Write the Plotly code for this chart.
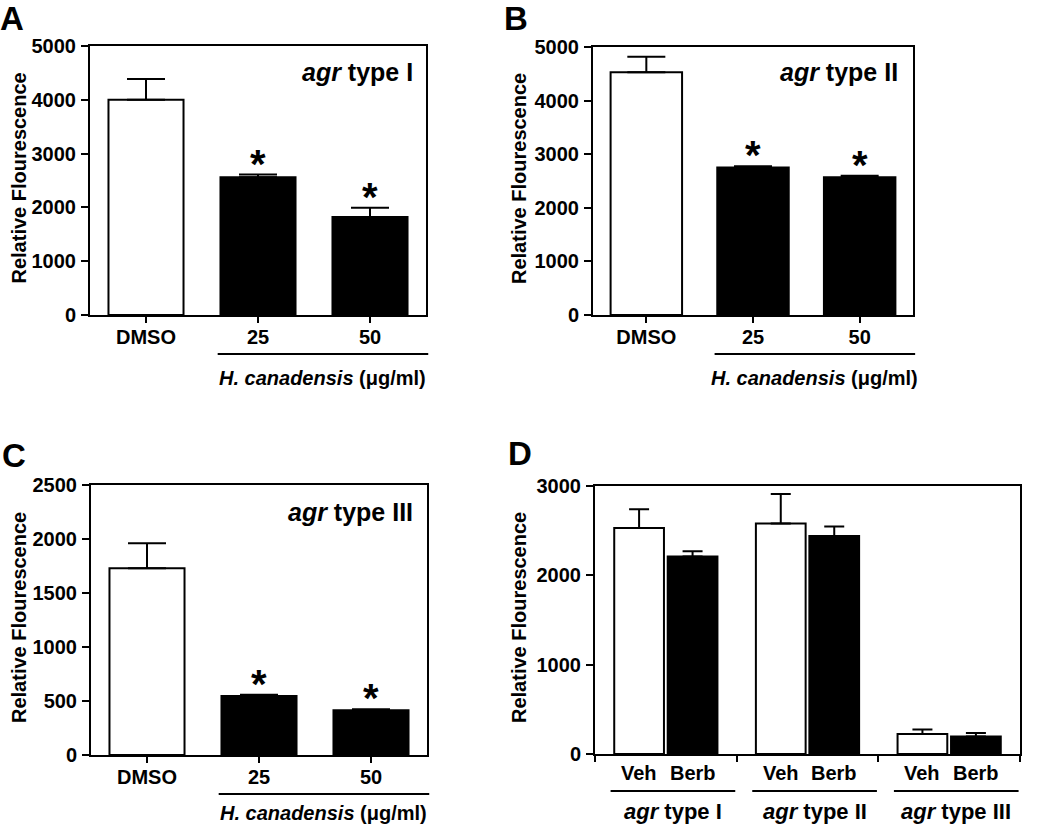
import plotly.graph_objects as go

W, H = 1050, 831

# ---------------- data ----------------
categories = ["DMSO", "25", "50"]
bar_fills = ["white", "black", "black"]
significant = [False, True, True]

a_values = [4000, 2560, 1820]
a_errors = [385, 50, 175]
b_values = [4530, 2750, 2570]
b_errors = [290, 25, 30]
c_values = [1730, 547, 415]
c_errors = [230, 10, 8]

d_groups = ["agr type I", "agr type II", "agr type III"]
d_group_labels = ["<i>agr</i> type I", "<i>agr</i> type II", "<i>agr</i> type III"]
d_sub_labels = ["Veh", "Berb"]
d_veh = [2530, 2580, 225]
d_veh_err = [210, 330, 48]
d_berb = [2210, 2440, 197]
d_berb_err = [60, 108, 38]

panel_titles = ["<i>agr</i> type I", "<i>agr</i> type II", "<i>agr</i> type III"]
y_ranges = [(0, 5000, 1000), (0, 5000, 1000), (0, 2500, 500), (0, 3000, 1000)]
y_title = "Relative Flourescence"
x_group_title = "<i>H. canadensis</i> (μg/ml)"

# ---------------- layout geometry (pixels) ----------------
boxes = {  # left, right, top, bottom
    "A": (90, 426, 46, 315),
    "B": (593, 913, 47, 315),
    "C": (91, 427, 485, 755),
    "D": (595, 1020, 486, 754),
}
FONT = "Liberation Sans, Arial, Helvetica, sans-serif"


def xdom(b):
    return [b[0] / W, b[1] / W]


def ydom(b):
    return [1 - b[3] / H, 1 - b[2] / H]


def cat_to_paper(b, n, v):
    return (b[0] + (v + 0.5) * (b[1] - b[0]) / n) / W


def py(p):
    return 1 - p / H


fig = go.Figure()

axis_names = [("x", "y"), ("x2", "y2"), ("x3", "y3"), ("x4", "y4")]
panel_keys = ["A", "B", "C", "D"]
abc_data = [(a_values, a_errors), (b_values, b_errors), (c_values, c_errors)]

for i, (vals, errs) in enumerate(abc_data):
    xa, ya = axis_names[i]
    fig.add_trace(go.Bar(
        x=categories, y=vals, xaxis=xa, yaxis=ya, width=0.67,
        marker=dict(color=bar_fills, line=dict(color="black", width=2)),
        error_y=dict(type="data", array=errs, arrayminus=[0] * len(errs), symmetric=False,
                     color="black", thickness=2, width=19),
        showlegend=False, hoverinfo="skip"))

fig.add_trace(go.Bar(
    x=d_groups, y=d_veh, xaxis="x4", yaxis="y4", name="Veh",
    marker=dict(color="white", line=dict(color="black", width=2)),
    error_y=dict(type="data", array=d_veh_err, arrayminus=[0] * 3, symmetric=False,
                 color="black", thickness=2, width=10),
    showlegend=False, hoverinfo="skip"))
fig.add_trace(go.Bar(
    x=d_groups, y=d_berb, xaxis="x4", yaxis="y4", name="Berb",
    marker=dict(color="black", line=dict(color="black", width=2)),
    error_y=dict(type="data", array=d_berb_err, arrayminus=[0] * 3, symmetric=False,
                 color="black", thickness=2, width=10),
    showlegend=False, hoverinfo="skip"))

layout = dict(
    width=W, height=H, margin=dict(l=0, r=0, t=0, b=0, pad=0, autoexpand=False),
    paper_bgcolor="white", plot_bgcolor="white",
    barmode="group", bargap=0.245, bargroupgap=0.07,
    font=dict(family=FONT, color="black", weight="bold"),
    showlegend=False,
)

for i, key in enumerate(panel_keys):
    b = boxes[key]
    xa, ya = axis_names[i]
    xk = "xaxis" + xa[1:]
    yk = "yaxis" + ya[1:]
    lo, hi, dt = y_ranges[i]
    xax = dict(type="category", domain=xdom(b), anchor=ya, automargin=False, range=[-0.5, 2.5],
               showline=True, linecolor="black", linewidth=2,
               mirror=True, ticks="outside", ticklen=6, tickwidth=2, tickcolor="black",
               showgrid=False, zeroline=False, fixedrange=True,
               tickfont=dict(family=FONT, size=20, color="black", weight="bold"),
               ticklabelstandoff=-3)
    if key == "D":
        xax.update(tickson="boundaries", showticklabels=False)
    yax = dict(domain=ydom(b), anchor=xa, range=[lo, hi], dtick=dt, tick0=0, automargin=False,
               showline=True, linecolor="black", linewidth=2, mirror=True,
               ticks="outside", ticklen=7, tickwidth=2, tickcolor="black",
               showgrid=False, zeroline=False, fixedrange=True,
               tickfont=dict(family=FONT, size=20, color="black", weight="bold"),
               ticklabelstandoff=1)
    layout[xk] = xax
    layout[yk] = yax

annotations = []
shapes = []

letter_pos = {"A": (12, 19), "B": (516, 19), "C": (14, 455), "D": (520, 454)}
ytitle_x = {"A": 19, "B": 519, "C": 19, "D": 519}
for key in panel_keys:
    b = boxes[key]
    lx, ly = letter_pos[key]
    annotations.append(dict(text=key, x=lx / W, y=py(ly), xref="paper", yref="paper",
                            xanchor="center", yanchor="middle", showarrow=False,
                            font=dict(family=FONT, size=33, color="black", weight="bold")))
    annotations.append(dict(text=y_title, x=ytitle_x[key] / W, y=py((b[2] + b[3]) / 2 - 2),
                            xref="paper", yref="paper", textangle=-90,
                            xanchor="center", yanchor="middle", showarrow=False,
                            font=dict(family=FONT, size=20, color="black", weight="bold")))

# inner titles for A-C
title_pos = [(415, 72), (900, 72), (415, 512)]
for i, key in enumerate(["A", "B", "C"]):
    tx, ty = title_pos[i]
    annotations.append(dict(text=panel_titles[i], x=tx / W, y=py(ty), xref="paper", yref="paper",
                            xanchor="right", yanchor="middle", showarrow=False,
                            font=dict(family=FONT, size=25, color="black", weight="bold")))

# asterisks (x given as category index)
for i, (vals, errs) in enumerate(abc_data):
    xa, ya = axis_names[i]
    for j, cat in enumerate(categories):
        if significant[j]:
            annotations.append(dict(text="*", x=j, y=vals[j] + errs[j], xref=xa, yref=ya,
                                    xanchor="center", yanchor="middle", yshift=11, showarrow=False,
                                    font=dict(family=FONT, size=40, color="black", weight="bold")))

# underline + group title for A-C
under_y = {"A": 354, "B": 354, "C": 794}
label_y = {"A": 378, "B": 378, "C": 813}
for key in ["A", "B", "C"]:
    b = boxes[key]
    x0 = cat_to_paper(b, 3, 0.64)
    x1 = cat_to_paper(b, 3, 2.52)
    shapes.append(dict(type="line", xref="paper", yref="paper", x0=x0, x1=x1,
                       y0=py(under_y[key]), y1=py(under_y[key]),
                       line=dict(color="black", width=2)))
    annotations.append(dict(text=x_group_title, x=(x0 + x1) / 2, y=py(label_y[key]),
                            xref="paper", yref="paper", xanchor="center", yanchor="middle",
                            showarrow=False,
                            font=dict(family=FONT, size=20, color="black", weight="bold")))

# panel D labels
bD = boxes["D"]
half = (1 - 0.245) / 4
for gi, g in enumerate(d_groups):
    for si, s in enumerate(d_sub_labels):
        xc = gi - half if si == 0 else gi + half
        annotations.append(dict(text=s, x=cat_to_paper(bD, 3, xc), y=py(773), xref="paper", yref="paper",
                                xanchor="center", yanchor="middle", showarrow=False,
                                font=dict(family=FONT, size=20, color="black", weight="bold")))
    x0 = cat_to_paper(bD, 3, gi - 0.39)
    x1 = cat_to_paper(bD, 3, gi + 0.49)
    shapes.append(dict(type="line", xref="paper", yref="paper", x0=x0, x1=x1,
                       y0=py(791), y1=py(791), line=dict(color="black", width=2)))
    annotations.append(dict(text=d_group_labels[gi], x=(x0 + x1) / 2, y=py(811),
                            xref="paper", yref="paper", xanchor="center", yanchor="middle",
                            showarrow=False,
                            font=dict(family=FONT, size=22, color="black", weight="bold")))

layout["annotations"] = annotations
layout["shapes"] = shapes
fig.update_layout(**layout)

fig.write_html("out.html", config={"displayModeBar": False},
               post_script="document.body.style.margin='0px';document.body.style.overflow='hidden';")
